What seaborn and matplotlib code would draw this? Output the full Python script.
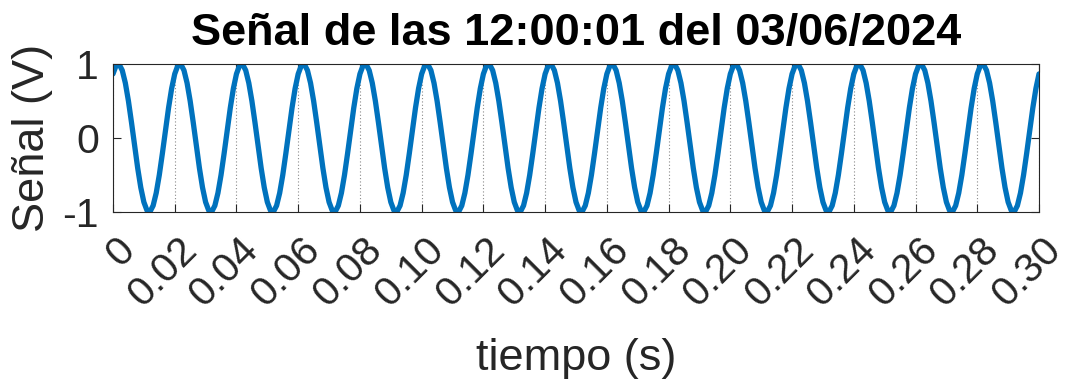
import numpy as np
import matplotlib
matplotlib.use("Agg")
import matplotlib.pyplot as plt
import matplotlib.transforms as mtransforms
import seaborn as sns

# ---- data (50 Hz signal, 1 ms sampling) ----
paso_s = 0.001  # sampling interval (s)
senal_v = [
    0.866, 0.978, 0.995, 0.914, 0.743, 0.500, 0.208, -0.105, -0.407, -0.669, -0.866, -0.978, -0.995, -0.914, -0.743, -0.500, -0.208, 0.105, 0.407, 0.669,
    0.866, 0.978, 0.995, 0.914, 0.743, 0.500, 0.208, -0.105, -0.407, -0.669, -0.866, -0.978, -0.995, -0.914, -0.743, -0.500, -0.208, 0.105, 0.407, 0.669,
    0.866, 0.978, 0.995, 0.914, 0.743, 0.500, 0.208, -0.105, -0.407, -0.669, -0.866, -0.978, -0.995, -0.914, -0.743, -0.500, -0.208, 0.105, 0.407, 0.669,
    0.866, 0.978, 0.995, 0.914, 0.743, 0.500, 0.208, -0.105, -0.407, -0.669, -0.866, -0.978, -0.995, -0.914, -0.743, -0.500, -0.208, 0.105, 0.407, 0.669,
    0.866, 0.978, 0.995, 0.914, 0.743, 0.500, 0.208, -0.105, -0.407, -0.669, -0.866, -0.978, -0.995, -0.914, -0.743, -0.500, -0.208, 0.105, 0.407, 0.669,
    0.866, 0.978, 0.995, 0.914, 0.743, 0.500, 0.208, -0.105, -0.407, -0.669, -0.866, -0.978, -0.995, -0.914, -0.743, -0.500, -0.208, 0.105, 0.407, 0.669,
    0.866, 0.978, 0.995, 0.914, 0.743, 0.500, 0.208, -0.105, -0.407, -0.669, -0.866, -0.978, -0.995, -0.914, -0.743, -0.500, -0.208, 0.105, 0.407, 0.669,
    0.866, 0.978, 0.995, 0.914, 0.743, 0.500, 0.208, -0.105, -0.407, -0.669, -0.866, -0.978, -0.995, -0.914, -0.743, -0.500, -0.208, 0.105, 0.407, 0.669,
    0.866, 0.978, 0.995, 0.914, 0.743, 0.500, 0.208, -0.105, -0.407, -0.669, -0.866, -0.978, -0.995, -0.914, -0.743, -0.500, -0.208, 0.105, 0.407, 0.669,
    0.866, 0.978, 0.995, 0.914, 0.743, 0.500, 0.208, -0.105, -0.407, -0.669, -0.866, -0.978, -0.995, -0.914, -0.743, -0.500, -0.208, 0.105, 0.407, 0.669,
    0.866, 0.978, 0.995, 0.914, 0.743, 0.500, 0.208, -0.105, -0.407, -0.669, -0.866, -0.978, -0.995, -0.914, -0.743, -0.500, -0.208, 0.105, 0.407, 0.669,
    0.866, 0.978, 0.995, 0.914, 0.743, 0.500, 0.208, -0.105, -0.407, -0.669, -0.866, -0.978, -0.995, -0.914, -0.743, -0.500, -0.208, 0.105, 0.407, 0.669,
    0.866, 0.978, 0.995, 0.914, 0.743, 0.500, 0.208, -0.105, -0.407, -0.669, -0.866, -0.978, -0.995, -0.914, -0.743, -0.500, -0.208, 0.105, 0.407, 0.669,
    0.866, 0.978, 0.995, 0.914, 0.743, 0.500, 0.208, -0.105, -0.407, -0.669, -0.866, -0.978, -0.995, -0.914, -0.743, -0.500, -0.208, 0.105, 0.407, 0.669,
    0.866, 0.978, 0.995, 0.914, 0.743, 0.500, 0.208, -0.105, -0.407, -0.669, -0.866, -0.978, -0.995, -0.914, -0.743, -0.500, -0.208, 0.105, 0.407, 0.669,
    0.866,
]
tiempo_s = np.arange(len(senal_v)) * paso_s

xticks = [0, 0.02, 0.04, 0.06, 0.08, 0.10, 0.12, 0.14, 0.16, 0.18, 0.20, 0.22, 0.24, 0.26, 0.28, 0.30]
xtick_labels = ["0", "0.02", "0.04", "0.06", "0.08", "0.10", "0.12", "0.14", "0.16",
                "0.18", "0.20", "0.22", "0.24", "0.26", "0.28", "0.30"]
yticks = [-1, 0, 1]
ytick_labels = ["-1", "0", "1"]

titulo = "Señal de las 12:00:01 del 03/06/2024"
etiqueta_x = "tiempo (s)"
etiqueta_y = "Señal (V)"

# ---- style ----
sns.set_theme(style="white")
plt.rcParams["font.family"] = ["Liberation Sans", "DejaVu Sans"]
ink = "#262626"

fig = plt.figure(figsize=(10.69, 3.8), dpi=100)
W, H = 1069, 380
ax = fig.add_axes([113 / W, 1 - 212 / H, 926 / W, 148 / H])

sns.lineplot(x=tiempo_s, y=senal_v, ax=ax, color="#0072BD", linewidth=3.8)

ax.set_xlim(0, 0.30)
ax.set_ylim(-1, 1)

ax.set_xticks(xticks)
ax.set_xticklabels(xtick_labels)
ax.set_yticks(yticks)
ax.set_yticklabels(ytick_labels)

for s in ax.spines.values():
    s.set_color(ink)
    s.set_linewidth(0.8)

ax.tick_params(axis="both", direction="in", color=ink, width=0.8, length=6,
               labelcolor=ink, labelsize=29.5, top=True, right=True,
               bottom=True, left=True)
ax.tick_params(axis="y", pad=10)
ax.tick_params(axis="x", pad=23)

for lab in ax.get_xticklabels():
    lab.set_rotation(45)
    lab.set_ha("right")
    lab.set_va("center")
    lab.set_rotation_mode("anchor")
offset = mtransforms.ScaledTranslation(16 / 100, 0, fig.dpi_scale_trans)
for lab in ax.get_xticklabels():
    lab.set_transform(lab.get_transform() + offset)

ax.xaxis.grid(True, linestyle=(0, (1, 2)), color="#8a8a8a", linewidth=0.8)
ax.yaxis.grid(False)

ax.set_title(titulo, fontsize=32.5, fontweight="bold", color="black", pad=14)
ax.set_xlabel(etiqueta_x, fontsize=32.5, color=ink, labelpad=17)
ax.set_ylabel(etiqueta_y, fontsize=32.5, color=ink, labelpad=7)

fig.savefig("out.png", dpi=100, facecolor="white")
